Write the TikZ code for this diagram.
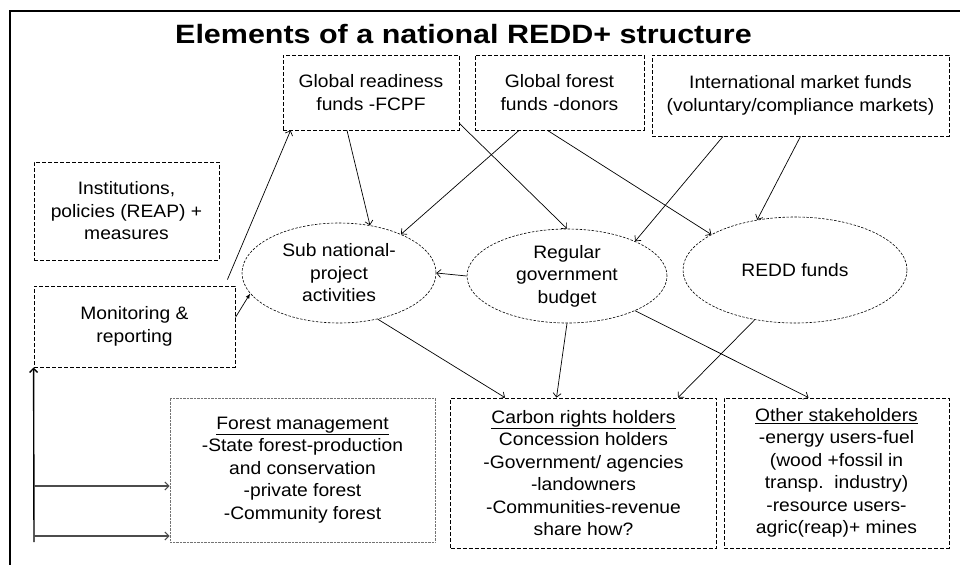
\documentclass[tikz,border=0pt]{standalone}
\usepackage{fontspec}
\setmainfont{Liberation Sans}[FakeStretch=1.07]
\newfontfamily\titlefont{Liberation Sans}[FakeStretch=1.15]
\usetikzlibrary{shapes.geometric,arrows.meta}

\begin{document}
\begin{tikzpicture}[x=1pt,y=-1pt]

\tikzset{
  box/.style={draw, dash pattern=on 4pt off 2pt, line width=0.8pt, inner sep=0pt, align=center, font=\fontsize{18}{22.5}\selectfont},
  dotbox/.style={box, draw=black!55, dash pattern=on 0.7pt off 0.7pt},
  oval/.style={box, ellipse, dash pattern=on 2.5pt off 1.5pt, line width=0.6pt},
  link/.style={-{Straight Barb[length=4pt,width=8pt]}, line width=0.7pt},
}

\useasboundingbox (0,0) rectangle (960,565);
\draw[line width=1.3pt] (960,11) -- (10,11) -- (10,565);

\node[anchor=base, font=\titlefont\bfseries\fontsize{26.5}{30}\selectfont] (T) at (463.5,43) {Elements of a national REDD+ structure};

\node[box, minimum width=176pt, minimum height=75pt] (F_1) at (371,92.5) {Global readiness\\funds -FCPF};
\node[box, minimum width=169pt, minimum height=75pt] (F_2) at (559.5,92.5) {Global forest\\funds -donors};
\node[box, minimum width=297pt, minimum height=81pt] (F_3) at (800.5,95.5) {International market funds\\(voluntary/compliance markets)};
\node[box, minimum width=185pt, minimum height=98pt] (B_1) at (126.5,211) {Institutions,\\policies (REAP) +\\measures};
\node[box, minimum width=201pt, minimum height=81pt] (B_2) at (134.5,326.5) {Monitoring \&\\reporting};

\node[oval, minimum width=194pt, minimum height=100pt] (E_1) at (339,273) {Sub national-\\project\\activities};
\node[oval, minimum width=200pt, minimum height=94pt] (E_2) at (567,276) {Regular\\government\\budget};
\node[oval, minimum width=224pt, minimum height=106pt] (E_3) at (795,270) {REDD funds};

\node[dotbox, minimum width=265pt, minimum height=144pt] (H_1) at (302.5,470) {\underline{Forest management}\\-State forest-production\\and conservation\\-private forest\\-Community forest};
\node[box, minimum width=266pt, minimum height=150pt] (H_2) at (583.5,473) {\underline{Carbon rights holders}\\Concession holders\\-Government/ agencies\\-landowners\\-Communities-revenue\\share how?};
\node[box, minimum width=225pt, minimum height=150pt] (H_3) at (836.5,473) {\underline{Other stakeholders}\\-energy users-fuel\\(wood +fossil in\\transp.\ \ industry)\\-resource users-\\agric(reap)+ mines};

\draw[link] ([xshift=-8pt,yshift=6pt]B_2.north east) -- ([xshift=8pt]F_1.south west);
\draw[-{Latex[length=5pt,width=4pt]}, line width=0.7pt] ([yshift=9pt]B_2.east) -- (E_1.193);
\draw[link] ([xshift=-24pt]F_1.south) -- (E_1.57);
\draw[link] ([xshift=-40.5pt]F_2.south) -- (E_1.32);
\draw[link] ([yshift=7pt]F_1.south east) -- (E_2.north);
\draw[link] ([xshift=-12pt]F_2.south) -- (E_3.157);
\draw[link] ([xshift=-77.5pt]F_3.south) -- (E_2.27);
\draw[link] (F_3.south) -- (E_3.127);
\draw[link] (E_2.west) -- (E_1.east);
\draw[link] (E_1.310) -- ([xshift=-78.5pt]H_2.north);
\draw[link] (E_2.south) -- ([xshift=-27pt]H_2.north);
\draw[link] (E_3.231) -- ([xshift=94.5pt]H_2.north);
\draw[link] (E_2.333) -- ([xshift=-28pt]H_3.north);

\coordinate (L_0) at (34,542);
\coordinate (L_1) at (34,486);
\coordinate (L_2) at (34,536);
\draw[link, line width=1.4pt] (L_0) -- (B_2.south west);
\draw[link, black!70, line width=1.1pt] (L_1) -- (L_1 -| H_1.west);
\draw[link, black!70, line width=1.1pt] (L_2) -- (L_2 -| H_1.west);

\end{tikzpicture}
\end{document}
